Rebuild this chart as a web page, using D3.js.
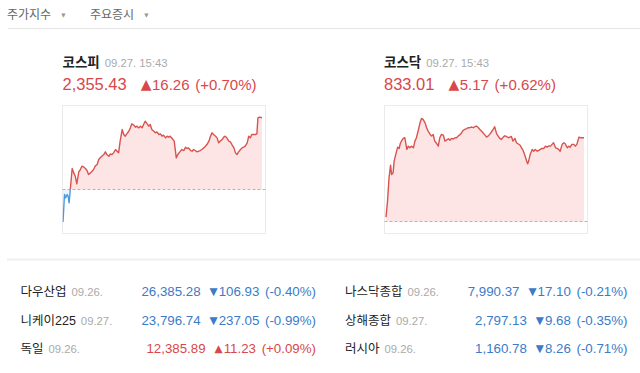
<!DOCTYPE html>
<html><head><meta charset="utf-8">
<script src="https://cdn.jsdelivr.net/npm/d3@7"></script>
<style>body{margin:0;background:#fff;}svg{display:block}</style>
</head><body>
<svg id="c" width="640" height="373"></svg>
<script>
// ---------- data ----------
const tabs = ["주가지수", "주요증시"];

const mainNames = ["코스피", "코스닥"];
const mainTimes = ["09.27. 15:43", "09.27. 15:43"];
const mainPrices = [2355.43, 833.01];
const mainChanges = [16.26, 5.17];
const mainPcts = [0.70, 0.62];

// intraday series: minutes after 09:00, index value
const kospiMinutes = [0,3,5,8,10,12,14,18,21,24,27,31,34,37,41,44,47,50,54,57,60,63,67,70,73,76,80,83,86,90,93,96,99,103,106,109,112,116,119,122,125,129,132,135,139,142,145,148,152,155,158,161,165,168,171,174,178,181,184,188,191,194,197,201,204,207,210,214,218,222,225,229,233,237,240,243,246,250,253,256,259,263,266,269,272,276,279,282,286,289,292,295,299,302,305,308,312,315,318,321,325,328,331,335,338,341,344,348,351,354,357,361,364,367,370,374,377,380,382,385,390];
const kospiValues = [2331.83,2338.03,2337.27,2338.03,2337.65,2336.14,2338.79,2343.93,2342.94,2342.19,2340.45,2343.17,2343.70,2344.46,2344.23,2343.93,2343.47,2342.57,2342.94,2343.32,2343.70,2344.46,2344.83,2345.97,2346.35,2346.72,2347.10,2347.71,2347.10,2346.72,2347.25,2347.10,2347.48,2348.24,2347.86,2347.48,2350.13,2352.77,2351.64,2351.26,2351.79,2352.39,2353.15,2354.06,2353.75,2353.30,2353.53,2353.15,2353.53,2353.15,2353.91,2354.66,2354.06,2353.53,2353.91,2352.77,2352.39,2352.02,2352.24,2351.64,2351.79,2351.26,2351.49,2350.88,2351.26,2351.03,2351.26,2350.73,2350.13,2346.35,2347.10,2347.71,2348.24,2348.01,2348.77,2348.46,2348.61,2348.01,2347.86,2348.24,2348.01,2347.71,2347.86,2348.01,2348.24,2348.61,2348.99,2349.37,2350.13,2351.26,2352.02,2351.64,2351.26,2350.88,2349.75,2350.13,2350.50,2351.03,2351.26,2350.88,2350.13,2349.97,2349.37,2348.61,2347.48,2347.10,2347.71,2348.24,2348.61,2348.77,2348.99,2349.75,2351.26,2350.88,2351.64,2351.64,2351.64,2351.79,2355.42,2355.57,2355.43];

const kosdaqMinutes = [0,3,6,9,11,14,16,20,23,26,28,31,34,37,41,44,47,50,54,57,60,64,67,70,73,77,80,83,87,90,93,96,100,103,106,109,113,116,119,123,126,129,132,136,139,142,146,149,152,155,159,162,165,168,172,175,178,182,185,188,191,195,198,201,205,208,211,214,218,221,224,227,231,234,237,241,244,247,250,254,257,260,264,267,270,273,277,279,281,284,288,291,294,298,301,304,307,311,314,317,321,324,327,330,334,337,340,343,347,350,353,357,360,363,366,370,373,376,380,383,386,390];
const kosdaqValues = [828.11,829.10,830.54,831.32,830.74,830.85,831.57,832.08,832.43,832.35,832.64,832.84,832.97,833.01,832.29,832.49,832.39,832.49,832.39,832.80,833.01,833.52,833.93,834.20,834.14,833.93,833.63,833.42,833.21,833.11,833.21,832.80,832.64,832.49,833.01,833.21,833.17,832.80,832.86,832.95,832.86,832.97,832.93,833.01,833.01,833.11,833.21,833.32,833.46,833.52,833.58,833.63,833.63,833.67,833.63,833.69,833.73,833.63,833.52,833.42,833.32,833.17,833.05,833.11,833.25,833.38,833.52,833.69,833.25,833.11,832.97,832.90,833.05,833.13,833.09,833.01,833.05,833.09,832.80,832.97,832.70,832.64,832.55,832.39,832.23,831.98,831.57,831.40,831.57,831.98,832.29,832.18,832.29,832.18,832.23,832.29,832.35,832.35,832.49,832.43,832.51,832.49,832.60,832.70,832.39,832.35,832.29,832.18,832.60,832.70,832.64,832.39,832.49,832.43,832.60,832.60,832.49,832.60,833.05,833.01,833.01,833.01];

const worldNames = ["다우산업", "니케이225", "독일", "나스닥종합", "상해종합", "러시아"];
const worldDates = ["09.26.", "09.27.", "09.26.", "09.26.", "09.27.", "09.26."];
const worldPrices = [26385.28, 23796.74, 12385.89, 7990.37, 2797.13, 1160.78];
const worldChanges = [-106.93, -237.05, 11.23, -17.10, -9.68, -8.26];
const worldPcts = [-0.40, -0.99, 0.09, -0.21, -0.35, -0.71];

// ---------- drawing ----------
const svg = d3.select("#c");
const FONT = "'Liberation Sans', Arial, 'Noto Sans CJK KR', sans-serif";
const KFONT = "'Noto Sans CJK KR', sans-serif";
const RED = "#d9474a", BLUE = "#3b7bc8";
const fmt = d3.format(",.2f");

// tabs
const tabX = [7, 90];
tabs.forEach((t, i) => {
  const tx = svg.append("text").attr("x", tabX[i]).attr("y", 19)
    .attr("font-family", KFONT).attr("font-size", 12).attr("fill", "#666");
  tx.append("tspan").text(t);
  tx.append("tspan").attr("dx", 10).attr("dy", -2).attr("font-size", 5.5).attr("fill", "#999")
    .attr("font-family", "'DejaVu Sans'").text("▼");
});
svg.append("rect").attr("x", 8).attr("y", 28).attr("width", 632).attr("height", 1).attr("fill", "#e6e6e6");

// main index blocks
const charts = [
  {minutes: kospiMinutes, values: kospiValues, box: {x: 62.5, y: 105.5, w: 203, h: 128}, xr: [63, 262], yDomain: [2329.19, 2358.22], tx: 62.5},
  {minutes: kosdaqMinutes, values: kosdaqValues, box: {x: 384.5, y: 105.5, w: 203, h: 128}, xr: [386, 584], yDomain: [827.10, 835.00], tx: 384}
];

charts.forEach((c, ci) => {
  const prev = +(mainPrices[ci] - mainChanges[ci]).toFixed(2);
  const g = svg.append("g");
  // title
  const t = g.append("text").attr("x", c.tx).attr("y", 67);
  t.append("tspan").attr("font-family", KFONT).attr("font-weight", 700).attr("font-size", 13.5)
    .attr("fill", "#222").text(mainNames[ci]);
  t.append("tspan").attr("dx", 5).attr("font-family", FONT).attr("font-size", 11.3)
    .attr("fill", "#aaa").text(mainTimes[ci]);
  // price
  const col = mainChanges[ci] >= 0 ? RED : BLUE;
  const p = g.append("text").attr("x", c.tx).attr("y", 90).attr("font-family", FONT)
    .attr("font-size", 16.5).attr("fill", col).text(fmt(mainPrices[ci]));
  const pw = p.node().getComputedTextLength();
  const ch = g.append("text").attr("x", c.tx + pw + 14).attr("y", 90).attr("font-family", FONT)
    .attr("font-size", 15).attr("fill", col);
  ch.append("tspan").attr("font-family", "'DejaVu Sans'").attr("font-size", 14).attr("dy", -1)
    .text(mainChanges[ci] >= 0 ? "▲" : "▼");
  ch.append("tspan").attr("dy", 1).attr("dx", 0.5).text(fmt(Math.abs(mainChanges[ci])));
  ch.append("tspan").attr("dx", 1.5).text(" (" + (mainPcts[ci] >= 0 ? "+" : "") + mainPcts[ci].toFixed(2) + "%)");

  // chart
  const x = d3.scaleLinear().domain([0, 390]).range(c.xr);
  const y = d3.scaleLinear().domain(c.yDomain).range([c.box.y + c.box.h, c.box.y]);
  const n = Math.min(c.minutes.length, c.values.length);
  const data = d3.range(n).map(i => ({m: c.minutes[i], v: c.values[i]}));
  const yb = y(prev);
  const defs = svg.append("defs");
  defs.append("clipPath").attr("id", "up" + ci).append("rect")
    .attr("x", c.box.x).attr("y", c.box.y - 5).attr("width", c.box.w).attr("height", yb - c.box.y + 5);
  defs.append("clipPath").attr("id", "dn" + ci).append("rect")
    .attr("x", c.box.x).attr("y", yb).attr("width", c.box.w).attr("height", c.box.y + c.box.h - yb + 5);

  g.append("rect").attr("x", c.box.x).attr("y", c.box.y).attr("width", c.box.w).attr("height", c.box.h)
    .attr("fill", "#fff").attr("stroke", "#ebebeb");

  const area = d3.area().x(d => x(d.m)).y0(yb).y1(d => y(d.v));
  const line = d3.line().x(d => x(d.m)).y(d => y(d.v));
  g.append("path").datum(data).attr("d", area).attr("fill", "#fde5e5").attr("clip-path", `url(#up${ci})`);
  g.append("path").datum(data).attr("d", area).attr("fill", "#eef5fd").attr("clip-path", `url(#dn${ci})`);
  g.append("line").attr("x1", c.box.x).attr("x2", c.box.x + c.box.w).attr("y1", yb).attr("y2", yb)
    .attr("stroke", "#b5b5b5").attr("stroke-dasharray", "3,2");
  g.append("path").datum(data).attr("d", line).attr("fill", "none").attr("stroke", "#d9534f")
    .attr("stroke-width", 1.4).attr("stroke-linejoin", "round").attr("clip-path", `url(#up${ci})`);
  g.append("path").datum(data).attr("d", line).attr("fill", "none").attr("stroke", "#4a9ae3")
    .attr("stroke-width", 1.4).attr("stroke-linejoin", "round").attr("clip-path", `url(#dn${ci})`);
});

// separator
svg.append("rect").attr("x", 7).attr("y", 258.5).attr("width", 633).attr("height", 2).attr("fill", "#efefef");

// world indices
const rowY = [296, 324.5, 353];
const colNameX = [20.5, 345];
const colEndX = [316, 627.5];
worldNames.forEach((name, i) => {
  const col = Math.floor(i / 3), r = i % 3;
  const yy = rowY[r];
  const t = svg.append("text").attr("x", colNameX[col]).attr("y", yy).attr("font-family", FONT);
  t.append("tspan").attr("font-size", 12.5).attr("fill", "#222").text(name);
  t.append("tspan").attr("dx", 5).attr("font-size", 11.3).attr("fill", "#aaa").text(worldDates[i]);
  const up = worldChanges[i] >= 0;
  const color = up ? RED : BLUE;
  const ch = svg.append("text").attr("x", colEndX[col]).attr("y", yy).attr("text-anchor", "end")
    .attr("font-family", FONT).attr("font-size", 13.3).attr("fill", color);
  ch.append("tspan").attr("font-family", "'DejaVu Sans'").attr("font-size", 10.5).attr("dy", -1)
    .text(up ? "▲" : "▼");
  ch.append("tspan").attr("dy", 1).attr("dx", 1).text(fmt(Math.abs(worldChanges[i])));
  ch.append("tspan").attr("dx", 2).text(" (" + (up ? "+" : "-") + Math.abs(worldPcts[i]).toFixed(2) + "%)");
  const bb = ch.node().getBBox();
  svg.append("text").attr("x", bb.x - 9).attr("y", yy).attr("text-anchor", "end")
    .attr("font-family", FONT).attr("font-size", 13.3).attr("fill", color).text(fmt(worldPrices[i]));
});
</script>
</body></html>
